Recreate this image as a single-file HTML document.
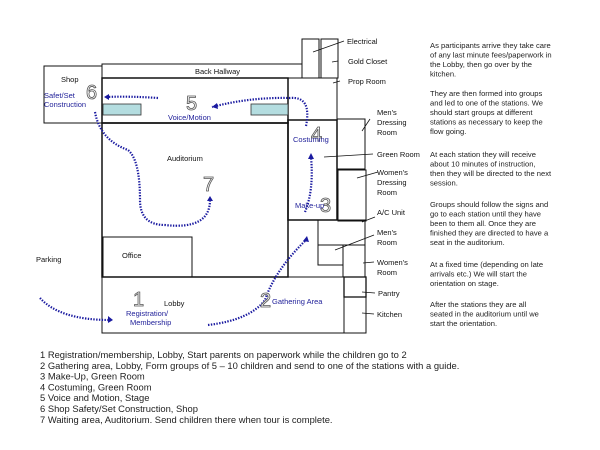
<!DOCTYPE html>
<html><head><meta charset="utf-8"><style>
html,body{margin:0;padding:0;background:#fff;width:600px;height:450px;overflow:hidden}
svg{display:block}
text{font-family:"Liberation Sans",Arial,sans-serif}
.l{font-size:7.5px;fill:#111}
.b{font-size:7.5px;fill:#22229a}
.n{font-size:20px;fill:#fff;stroke:#555;stroke-width:0.8}
.p{font-size:7.6px;fill:#222}
.f{font-size:9.4px;fill:#222}
.d{fill:none;stroke:#1a1aa0;stroke-width:2.2;stroke-dasharray:1.4 1.4}
</style></head><body>
<svg width="600" height="450" viewBox="0 0 600 450">
<g fill="none" stroke="#111" stroke-width="1">
<rect x="44" y="66" width="58" height="57"/>
<rect x="102" y="64" width="200" height="14"/>
<rect x="102" y="78" width="186" height="45" stroke-width="1.5"/>
<rect x="302" y="39" width="17" height="39"/>
<rect x="321" y="39" width="17" height="39"/>
<rect x="288" y="78" width="49" height="42"/>
<rect x="288" y="120" width="49" height="100" stroke-width="1.5"/>
<rect x="337" y="119" width="28" height="50"/>
<rect x="338" y="170" width="28" height="51"/>
<rect x="102" y="123" width="186" height="154" stroke-width="1.5"/>
<rect x="103" y="237" width="89" height="40"/>
<rect x="102" y="277" width="242" height="56"/>
<line x1="288" y1="220" x2="288" y2="277"/>
<rect x="318" y="220" width="47" height="25"/>
<rect x="318" y="245" width="25" height="20"/>
<rect x="343" y="245" width="22" height="32"/>
<rect x="344" y="277" width="22" height="20" stroke-width="1.3"/>
<rect x="344" y="297" width="22" height="36"/>
</g>
<rect x="103" y="104" width="38" height="11" fill="#b4dde0" stroke="#333" stroke-width="0.8"/>
<rect x="251" y="104" width="37" height="11" fill="#b4dde0" stroke="#333" stroke-width="0.8"/>
<g stroke="#111" stroke-width="0.8">
<line x1="344" y1="41" x2="313" y2="52"/>
<line x1="338" y1="61" x2="332" y2="62"/>
<line x1="340" y1="81" x2="333" y2="83"/>
<line x1="370" y1="119" x2="362" y2="131"/>
<line x1="373" y1="154" x2="324" y2="157"/>
<line x1="378" y1="172" x2="357" y2="178"/>
<line x1="375" y1="217" x2="362" y2="222"/>
<line x1="374" y1="235" x2="335" y2="250"/>
<line x1="374" y1="262" x2="363" y2="263"/>
<line x1="375" y1="293" x2="362" y2="292"/>
<line x1="374" y1="314" x2="362" y2="313"/>
</g>
<path class="d" d="M40 298 Q60 320 110 320"/>
<path class="d" d="M208 325 Q250 320 265 300 Q275 270 306 240"/>
<path class="d" d="M305 212 Q314 190 311 157"/>
<path class="d" d="M306 126 Q312 96 290 98 Q250 97 212 107"/>
<path class="d" d="M158 98 Q130 96 105 97"/>
<path class="d" d="M95 112 Q100 140 128 150 Q140 160 140 200 Q140 225 165 225 Q210 230 210 200"/>
<g fill="#1a1aa0">
<polygon points="104,97 109,94 109,100"/>
<polygon points="212,107 217,103 218,109"/>
<polygon points="210,196 207,201 213,201"/>
<polygon points="311,153 308,159 314,159"/>
<polygon points="307,236 303,241 309,242"/>
<polygon points="113,320 108,316 108,323"/>
</g>
<text class="n" x="86" y="99">6</text>
<text class="n" x="186" y="110">5</text>
<text class="n" x="311" y="141">4</text>
<text class="n" x="320" y="212">3</text>
<text class="n" x="203" y="191">7</text>
<text class="n" x="133" y="306">1</text>
<text class="n" x="260" y="307">2</text>
<text class="l" x="61" y="82">Shop</text>
<text class="b" x="44" y="98">Safet/Set</text>
<text class="b" x="44" y="107">Construction</text>
<text class="l" x="195" y="74">Back Hallway</text>
<text class="b" x="168" y="120">Voice/Motion</text>
<text class="l" x="167" y="161">Auditorium</text>
<text class="b" x="293" y="142">Costuming</text>
<text class="b" x="295" y="208">Make-up</text>
<text class="l" x="122" y="258">Office</text>
<text class="l" x="36" y="262">Parking</text>
<text class="l" x="164" y="306">Lobby</text>
<text class="b" x="126" y="316">Registration/</text>
<text class="b" x="130" y="325">Membership</text>
<text class="b" x="272" y="304">Gathering Area</text>
<text class="l" x="347" y="44">Electrical</text>
<text class="l" x="348" y="64">Gold Closet</text>
<text class="l" x="348" y="84">Prop Room</text>
<text class="l" x="377" y="115">Men's</text>
<text class="l" x="377" y="125">Dressing</text>
<text class="l" x="377" y="135">Room</text>
<text class="l" x="377" y="157">Green Room</text>
<text class="l" x="377" y="175">Women's</text>
<text class="l" x="377" y="185">Dressing</text>
<text class="l" x="377" y="195">Room</text>
<text class="l" x="377" y="215">A/C Unit</text>
<text class="l" x="377" y="235">Men's</text>
<text class="l" x="377" y="245">Room</text>
<text class="l" x="377" y="265">Women's</text>
<text class="l" x="377" y="275">Room</text>
<text class="l" x="378" y="296">Pantry</text>
<text class="l" x="377" y="317">Kitchen</text>
<g class="p">
<text x="430" y="48">As participants arrive they take care</text>
<text x="430" y="57.5">of any last minute fees/paperwork in</text>
<text x="430" y="67">the Lobby, then go over by the</text>
<text x="430" y="76.5">kitchen.</text>
<text x="430" y="96">They are then formed into groups</text>
<text x="430" y="105.5">and led to one of the stations. We</text>
<text x="430" y="115">should start groups at different</text>
<text x="430" y="124.5">stations as necessary to keep the</text>
<text x="430" y="134">flow going.</text>
<text x="430" y="157">At each station they will receive</text>
<text x="430" y="166.5">about 10 minutes of instruction,</text>
<text x="430" y="176">then they will be directed to the next</text>
<text x="430" y="185.5">session.</text>
<text x="430" y="207">Groups should follow the signs and</text>
<text x="430" y="216.5">go to each station until they have</text>
<text x="430" y="226">been to them all. Once they are</text>
<text x="430" y="235.5">finished they are directed to have a</text>
<text x="430" y="245">seat in the auditorium.</text>
<text x="430" y="267">At a fixed time (depending on late</text>
<text x="430" y="276.5">arrivals etc.) We will start the</text>
<text x="430" y="286">orientation on stage.</text>
<text x="430" y="307">After the stations  they are all</text>
<text x="430" y="316.5">seated in the auditorium until we</text>
<text x="430" y="326">start the orientation.</text>
</g>
<g class="f">
<text x="40" y="358">1 Registration/membership, Lobby, Start parents on paperwork while the children go to 2</text>
<text x="40" y="368.8">2 Gathering area, Lobby, Form groups of 5 – 10 children and send to one of the stations with a guide.</text>
<text x="40" y="379.6">3 Make-Up, Green Room</text>
<text x="40" y="390.4">4 Costuming,  Green Room</text>
<text x="40" y="401.2">5 Voice and Motion, Stage</text>
<text x="40" y="412">6 Shop Safety/Set Construction, Shop</text>
<text x="40" y="422.8">7 Waiting area, Auditorium. Send children there when tour is complete.</text>
</g>
</svg>
</body></html>
